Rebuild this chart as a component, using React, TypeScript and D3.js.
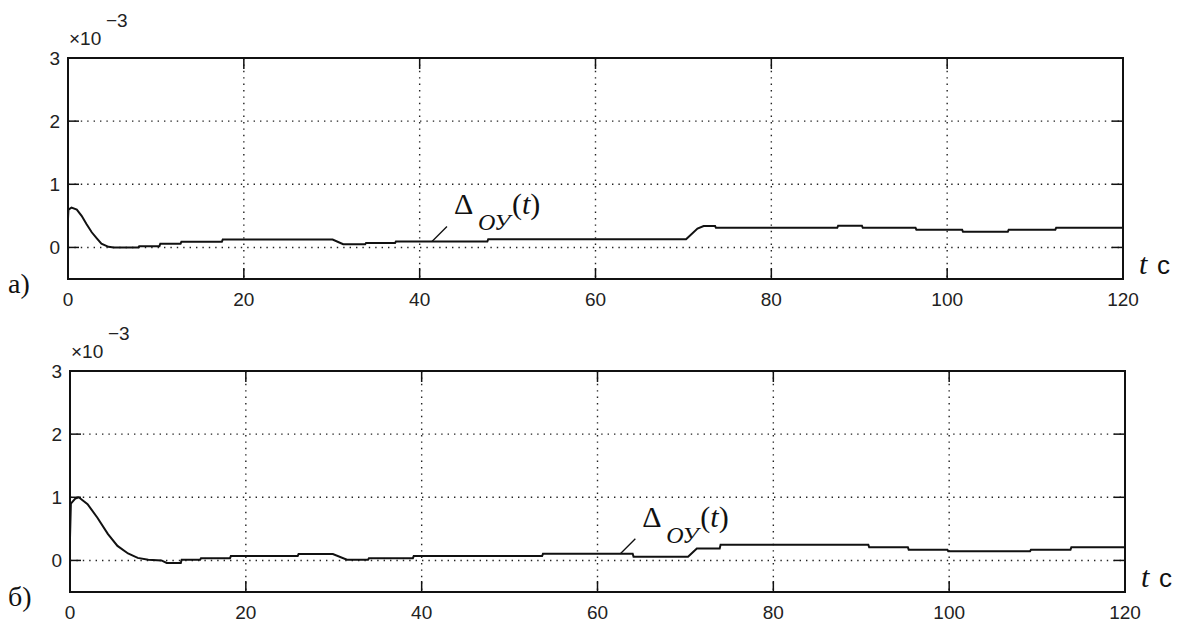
import * as d3 from "d3";

// time axis (s) and values (x10^-3)
const tA = [0, 0.05, 0.4, 1.0, 1.55, 2.1, 2.7, 3.3, 3.8, 4.6, 5.2, 8, 8.1, 10.4, 10.5, 12.8, 12.9, 17.5, 17.6, 30.1, 31.3, 33.8, 33.9, 37.2, 37.3, 47.7, 47.8, 70.3, 71.6, 72.3, 73.6, 73.7, 87.5, 87.6, 90.3, 90.4, 96.4, 96.5, 101.7, 101.8, 106.9, 107, 112.3, 112.4, 120];
const vA = [0.45, 0.6, 0.63, 0.6, 0.5, 0.37, 0.24, 0.14, 0.06, 0.01, 0, 0, 0.02, 0.02, 0.06, 0.06, 0.09, 0.09, 0.125, 0.125, 0.05, 0.05, 0.07, 0.07, 0.095, 0.095, 0.13, 0.13, 0.3, 0.34, 0.34, 0.31, 0.31, 0.345, 0.345, 0.31, 0.31, 0.28, 0.28, 0.25, 0.25, 0.28, 0.28, 0.31, 0.31];

const tB = [0, 0.1, 0.6, 1.0, 2.0, 3.1, 4.3, 5.4, 6.6, 7.7, 8.9, 10.4, 11.0, 12.6, 12.7, 14.8, 14.9, 18.2, 18.3, 25.9, 26.0, 29.9, 31.5, 33.9, 34.0, 39.0, 39.1, 53.7, 53.8, 64.0, 64.1, 70.3, 71.3, 73.9, 74.0, 90.8, 90.9, 95.3, 95.4, 99.8, 99.9, 109.2, 109.3, 113.8, 113.9, 120];
const vB = [0.35, 0.9, 0.98, 1.0, 0.89, 0.68, 0.42, 0.23, 0.11, 0.04, 0.01, 0, -0.04, -0.04, 0.01, 0.01, 0.035, 0.035, 0.07, 0.07, 0.1, 0.1, 0.01, 0.01, 0.035, 0.035, 0.07, 0.07, 0.105, 0.105, 0.06, 0.06, 0.19, 0.19, 0.25, 0.25, 0.21, 0.21, 0.17, 0.17, 0.145, 0.145, 0.17, 0.17, 0.21, 0.21];

const xTicks = [0, 20, 40, 60, 80, 100, 120];
const yTicks = [0, 1, 2, 3];
const panelLabels = ["а)", "б)"];

const sans = "'Liberation Sans', Arial, sans-serif";
const serif = "'Liberation Serif', 'Times New Roman', serif";

type PanelProps = {
  t: number[];
  v: number[];
  left: number;
  right: number;
  top: number;
  bottom: number;
  label: string;
  annT: number; // where the pointer touches the curve
  annV: number;
};

const Panel = ({ t, v, left, right, top, bottom, label, annT, annV }: PanelProps) => {
  const x = d3.scaleLinear().domain([0, 120]).range([left, right]);
  const y = d3.scaleLinear().domain([-0.5, 3]).range([bottom, top]);
  const pts = t.map((d, i) => [d, v[i]] as [number, number]);
  const line = d3
    .line<[number, number]>()
    .x((d) => x(d[0]))
    .y((d) => y(d[1]));

  const px = x(annT);
  const py = y(annV);
  const tx = px + 22; // text anchor
  const ty = py - 27;

  return (
    <g>
      {/* grid */}
      {xTicks.slice(1, -1).map((d) => (
        <line key={"gx" + d} x1={x(d)} x2={x(d)} y1={top} y2={bottom} stroke="#222" strokeWidth={1.4} strokeDasharray="1.4,5" />
      ))}
      {yTicks.slice(0, -1).map((d) => (
        <line key={"gy" + d} x1={left} x2={right} y1={y(d)} y2={y(d)} stroke="#222" strokeWidth={1.4} strokeDasharray="1.4,5" />
      ))}
      {/* ticks */}
      {xTicks.map((d) => (
        <g key={"tx" + d}>
          <line x1={x(d)} x2={x(d)} y1={bottom} y2={bottom - 11} stroke="#111" strokeWidth={1.5} />
          <line x1={x(d)} x2={x(d)} y1={top} y2={top + 11} stroke="#111" strokeWidth={1.5} />
          <text x={x(d)} y={bottom + 27} textAnchor="middle" fontFamily={sans} fontSize={19} fill="#222">
            {d}
          </text>
        </g>
      ))}
      {yTicks.map((d) => (
        <g key={"ty" + d}>
          <line x1={left} x2={left + 11} y1={y(d)} y2={y(d)} stroke="#111" strokeWidth={1.5} />
          <line x1={right} x2={right - 11} y1={y(d)} y2={y(d)} stroke="#111" strokeWidth={1.5} />
          <text x={left - 8} y={y(d) + 7} textAnchor="end" fontFamily={sans} fontSize={19} fill="#222">
            {d}
          </text>
        </g>
      ))}
      <rect x={left} y={top} width={right - left} height={bottom - top} fill="none" stroke="#111" strokeWidth={2} />
      {/* exponent */}
      <text x={left + 1} y={top - 13} fontFamily={sans} fontSize={19} fill="#222">
        ×10
      </text>
      <text x={left + 38} y={top - 31} fontFamily={sans} fontSize={19} fill="#222">
        −3
      </text>
      {/* curve */}
      <path d={line(pts) ?? ""} fill="none" stroke="#111" strokeWidth={2} />
      {/* annotation */}
      <line x1={px} y1={py} x2={px + 15} y2={py - 15} stroke="#111" strokeWidth={1.3} />
      <text x={tx} y={ty} fontFamily={serif} fontSize={30} fill="#111">
        Δ
      </text>
      <text x={tx + 24} y={ty + 16} fontFamily={serif} fontStyle="italic" fontSize={24} fill="#111">
        ОУ
      </text>
      <text x={tx + 58} y={ty} fontFamily={serif} fontSize={30} fill="#111">
        (<tspan fontStyle="italic">t</tspan>)
      </text>
      {/* panel label and time unit */}
      <text x={8} y={bottom + 14} fontFamily={serif} fontSize={28} fill="#111">
        {label}
      </text>
      <text x={right + 16} y={bottom - 5} fontFamily={serif} fontSize={30} fontStyle="italic" fill="#111">
        t
      </text>
      <text x={right + 34} y={bottom - 5} fontFamily={sans} fontSize={26} fill="#111">
        c
      </text>
    </g>
  );
};

export default function App() {
  return (
    <svg
      width={1187}
      height={625}
      style={{ position: "absolute", left: 0, top: 0, background: "#fff" }}
    >
      <Panel t={tA} v={vA} left={68} right={1123} top={58} bottom={279} label={panelLabels[0]} annT={41.4} annV={0.095} />
      <Panel t={tB} v={vB} left={70} right={1125} top={371} bottom={592} label={panelLabels[1]} annT={62.6} annV={0.105} />
    </svg>
  );
}
